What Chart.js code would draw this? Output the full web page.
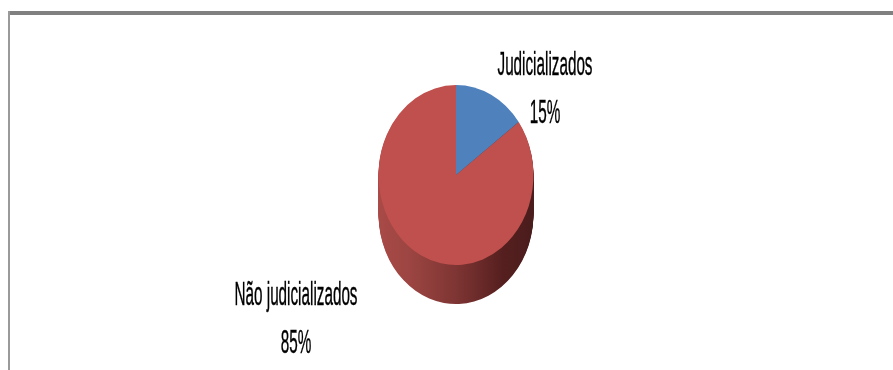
<!DOCTYPE html>
<html>
<head>
<meta charset="utf-8">
<script src="https://cdn.jsdelivr.net/npm/chart.js@4/dist/chart.umd.min.js"></script>
<style>
  html,body{margin:0;padding:0;background:#fff;}
  #wrap{position:relative;width:893px;height:370px;}
</style>
</head>
<body>
<div id="wrap"><canvas id="c" width="893" height="370"></canvas></div>
<script>
const categories = ['Judicializados', 'Não judicializados'];
const values = [15, 85];
const colors = ['#4F81BD', '#C0504D'];

const SX = 77.5 / 90;   // horizontal squeeze of the pie (elliptical look)
const DEPTH = 39;       // 3D extrusion depth
const FONT = '33px "Liberation Sans", Arial, sans-serif';
const REF_WIDTH = 95;   // width of "Judicializados" in the picture

const total = values.reduce((a, b) => a + b, 0);
const pct = values.map(v => Math.round(v / total * 100) + '%');

const framePlugin = {
  id: 'frame',
  beforeDraw(chart) {
    const ctx = chart.ctx;
    ctx.save();
    ctx.fillStyle = '#fff';
    ctx.fillRect(0, 0, chart.width, chart.height);
    ctx.fillStyle = '#808080';
    ctx.fillRect(8, 11, chart.width - 8, 4);
    ctx.fillStyle = '#9a9a9a';
    ctx.fillRect(8, 11, 2, chart.height - 11);
    ctx.restore();
  }
};

const pie3d = {
  id: 'pie3d',
  beforeDatasetsDraw(chart) {
    const ctx = chart.ctx;
    const meta = chart.getDatasetMeta(0);
    const a0 = meta.data[0];
    const cx = a0.x, cy = a0.y;
    ctx.save();
    ctx.translate(cx, cy);
    ctx.scale(SX, 1);
    ctx.translate(-cx, -cy);
    meta.data.forEach((arc, i) => {
      const p = arc.getProps(['x', 'y', 'startAngle', 'endAngle', 'outerRadius']);
      const g = ctx.createLinearGradient(p.x - p.outerRadius, 0, p.x + p.outerRadius, 0);
      if (i === 1) {
        g.addColorStop(0, '#A94A47');
        g.addColorStop(0.2, '#9C4542');
        g.addColorStop(0.5, '#7E3533');
        g.addColorStop(0.8, '#561F1F');
        g.addColorStop(1, '#4A1C1C');
      } else {
        g.addColorStop(0, '#3A5F8C');
        g.addColorStop(1, '#203650');
      }
      ctx.fillStyle = g;
      for (let d = DEPTH; d >= 1; d--) {
        ctx.beginPath();
        ctx.moveTo(p.x, p.y + d);
        ctx.arc(p.x, p.y + d, p.outerRadius, p.startAngle, p.endAngle);
        ctx.closePath();
        ctx.fill();
      }
    });
  },
  afterDatasetsDraw(chart) {
    chart.ctx.restore();
  }
};

const labelPlugin = {
  id: 'outLabels',
  afterDraw(chart) {
    const ctx = chart.ctx;
    const pos = [
      { x: 545, y1: 75, y2: 123 },
      { x: 296, y1: 305, y2: 353 }
    ];
    ctx.save();
    ctx.font = FONT;
    const sx = REF_WIDTH / ctx.measureText(categories[0]).width;
    ctx.fillStyle = '#000';
    ctx.strokeStyle = '#000';
    ctx.lineWidth = 0.4;
    ctx.textBaseline = 'alphabetic';
    ctx.textAlign = 'center';
    categories.forEach((c, i) => {
      const p = pos[i];
      [[c, p.y1], [pct[i], p.y2]].forEach(([t, y]) => {
        ctx.save();
        ctx.translate(p.x, y);
        ctx.scale(sx, 1);
        ctx.fillText(t, 0, 0);
        ctx.strokeText(t, 0, 0);
        ctx.restore();
      });
    });
    ctx.restore();
  }
};

new Chart(document.getElementById('c'), {
  type: 'pie',
  data: {
    labels: categories,
    datasets: [{
      data: values,
      backgroundColor: colors,
      borderWidth: 0
    }]
  },
  options: {
    responsive: false,
    animation: false,
    layout: { padding: { top: 85, bottom: 105, left: 366, right: 347 } },
    plugins: { legend: { display: false }, tooltip: { enabled: false } }
  },
  plugins: [framePlugin, pie3d, labelPlugin]
});
</script>
</body>
</html>
